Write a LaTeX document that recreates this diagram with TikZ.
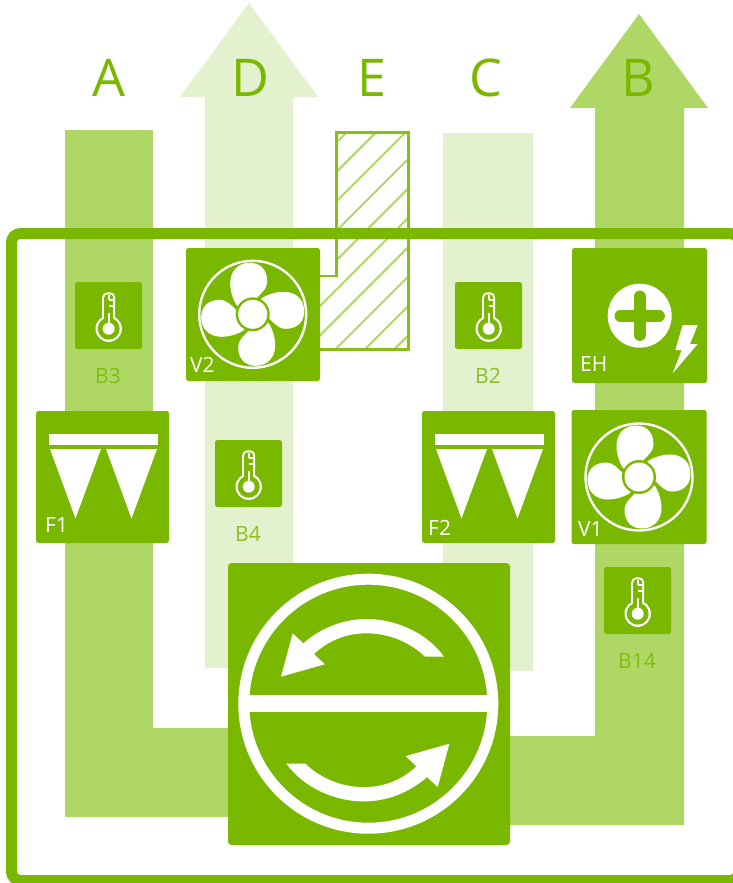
\documentclass[tikz,border=0pt]{standalone}
\usepackage{fontspec}
\setmainfont{Open Sans}
\definecolor{dkgreen}{HTML}{7AB800}
\definecolor{midgreen}{HTML}{AFD766}
\definecolor{ltgreen}{HTML}{E3F1CE}
\tikzset{
  greenbox/.style={fill=dkgreen,draw=none,rounded corners=2.5pt,inner sep=0pt,outer sep=0pt},
  sensorbox/.style={greenbox,minimum width=67pt,minimum height=67pt},
  devicebox/.style={greenbox,minimum width=134pt,minimum height=133pt},
  flowletter/.style={text=dkgreen,font=\fontsize{52}{52}\selectfont,anchor=base,inner sep=0pt},
  sensorlabel/.style={text=dkgreen,font=\fontsize{21}{21}\selectfont,anchor=base,inner sep=0pt,opacity=.85},
  devicelabel/.style={text=white,font=\fontsize{21}{21}\selectfont,anchor=base west,inner sep=0pt},
}
\newcommand{\fanicon}[1]{%
  \begin{scope}[shift={(#1)}]
    \draw[white,line width=2.4pt] (0,0) circle (53.5);
    \foreach \ang in {0,90,180,270}{
      \fill[white,rotate=\ang] (-16,-9) .. controls (-20,-15) and (-22.5,-24) .. (-22.5,-31)
        .. controls (-22.5,-44) and (-14,-51.5) .. (-3,-51.5)
        .. controls (8,-51.5) and (14.5,-44) .. (14.5,-33)
        .. controls (14.5,-25) and (7,-20) .. (2,-14) -- (0,0) -- cycle;
    }
    \fill[dkgreen] (0,0) circle (17);
    \fill[white] (0,0) circle (14.5);
  \end{scope}}
\newcommand{\thermoicon}[1]{%
  \begin{scope}[shift={(#1)}]
    \fill[white,rounded corners=5pt] (-6.5,13) -- (-6.5,-23.2) -- (6.5,-23.2) -- (6.5,13) -- cycle;
    \fill[white] (0,13.2) circle (13.2);
    \fill[dkgreen,rounded corners=3.5pt] (-4.5,13) -- (-4.5,-21.2) -- (4.5,-21.2) -- (4.5,13) -- cycle;
    \fill[dkgreen] (0,13.2) circle (11);
    \fill[white] (0,13.2) circle (6);
    \draw[white,line width=1.8pt] (0,13) -- (0,-3);
    \draw[white,line width=1.6pt] (0,-15.5) -- (5,-15.5) (0,-9.5) -- (5,-9.5);
    \draw[white,line width=1.8pt] (0,-21) -- (0,-15.5);
  \end{scope}}
\newcommand{\filtericon}[1]{%
  \begin{scope}[shift={(#1)}]
    \fill[white] (49,434) rectangle (158,445);
    \fill[white] (50,449) -- (101,449) -- (75.5,518.5) -- cycle;
    \fill[white] (106,449) -- (157,449) -- (131.5,518.5) -- cycle;
  \end{scope}}
\begin{document}
\begin{tikzpicture}[x=1pt,y=-1pt]
\useasboundingbox (0,0) rectangle (733,883);
\begin{scope}
\clip (0,0) rectangle (733,883);
% flows
\fill[midgreen] (65,130) -- (153,130) -- (153,728) -- (300,728) -- (300,817) -- (65,817) -- cycle;
\fill[ltgreen] (205,668) -- (205,97) -- (180,97) -- (249,3) -- (318,97) -- (293,97) -- (293,668) -- cycle;
\fill[ltgreen] (443,133) rectangle (533,671);
\fill[midgreen] (684,825) -- (684,108) -- (708,108) -- (639,14) -- (570,108) -- (595,108) -- (595,736) -- (450,736) -- (450,825) -- cycle;
% hatched E
\begin{scope}
  \clip (336,132) -- (409,132) -- (409,350) -- (320,350) -- (320,276) -- (336,276) -- cycle;
  \foreach \k in {0,...,10}{
    \pgfmathsetmacro{\cc}{479+29.4*\k}
    \draw[midgreen,line width=2pt] (300,\cc-300) -- (420,\cc-420);
  }
\end{scope}
\draw[dkgreen!90!white,line width=2.6pt] (320,276) -- (336.5,276) -- (336.5,132.5) -- (408.5,132.5) -- (408.5,349.5) -- (320,349.5);
% outer frame
\draw[dkgreen,line width=11pt,rounded corners=9pt] (11.5,233.5) rectangle (739,880.5);
% devices
\node[devicebox] (v2box) at (253,314.5) {};
\fanicon{252.7,314.3}
\node[devicelabel] (v2label) at (190,372.7) {V2};
\node[devicebox,minimum width=135pt,minimum height=135pt] (ehbox) at (639.5,315.5) {};
\fill[white] (639.7,315.7) circle (32);
\draw[dkgreen,line width=12pt,line cap=round] (620.5,315.7) -- (658.9,315.7) (639.7,296.5) -- (639.7,334.9);
\fill[white] (682.7,325) -- (697.7,325) -- (690,344) -- (697.7,344) -- (672.7,373.3) -- (681.7,350) -- (675.3,350) -- cycle;
\node[devicelabel] (ehlabel) at (580,371.7) {EH};
\node[devicebox,minimum width=135pt,minimum height=134pt] (v1box) at (639,477) {};
\fanicon{639,477}
\node[devicelabel] (v1label) at (578,536.7) {V1};
\node[devicebox,minimum width=133pt,minimum height=132pt] (f1box) at (102.5,477) {};
\filtericon{0,0}
\node[devicelabel] (f1label) at (45,532.7) {F1};
\node[devicebox,minimum width=133pt,minimum height=132pt] (f2box) at (488.5,477) {};
\filtericon{386,0}
\node[devicelabel] (f2label) at (428,535) {F2};
% sensors
\node[sensorbox] (b3box) at (108.5,315.5) {};
\thermoicon{108.7,315.5}
\node[sensorlabel] (b3label) at (108,383.4) {B3};
\node[sensorbox] (b4box) at (248.5,473.5) {};
\thermoicon{248.7,473.5}
\node[sensorlabel] (b4label) at (248,541.7) {B4};
\node[sensorbox] (b2box) at (488.5,315.5) {};
\thermoicon{488.7,315.5}
\node[sensorlabel] (b2label) at (488,383.4) {B2};
\node[sensorbox] (b14box) at (637.5,600.5) {};
\thermoicon{637.7,600.5}
\node[sensorlabel] (b14label) at (637,668.5) {B14};
% heat exchanger
\node[greenbox,rounded corners=3.5pt,minimum width=282pt,minimum height=282pt] (hxbox) at (369,704) {};
\draw[white,line width=11pt] (368.3,703.7) circle (124.5);
\fill[white] (248,695) rectangle (489,712.3);
\newcommand{\swirl}{(444,656.7) .. controls (427,633) and (396,619) .. (366.7,619)
   .. controls (343,619) and (321,628) .. (303.3,643.3) -- (292.7,633.3) -- (281,676.7) -- (324.7,664.3) -- (314,654)
   .. controls (329,640) and (347,633.3) .. (366.7,633.3)
   .. controls (390,633.3) and (411,643) .. (425,656.7) -- cycle}
\fill[white] \swirl;
\begin{scope}[rotate around={180:(365.2,710.2)}]
\fill[white] \swirl;
\end{scope}
% flow letters
\node[flowletter] (la) at (108.8,96.7) {A};
\node[flowletter] (ld) at (250,96.7) {D};
\node[flowletter] (le) at (372,96.7) {E};
\node[flowletter] (lc) at (486,96.7) {C};
\node[flowletter] (lb) at (638,96.7) {B};
\end{scope}
\end{tikzpicture}
\end{document}
